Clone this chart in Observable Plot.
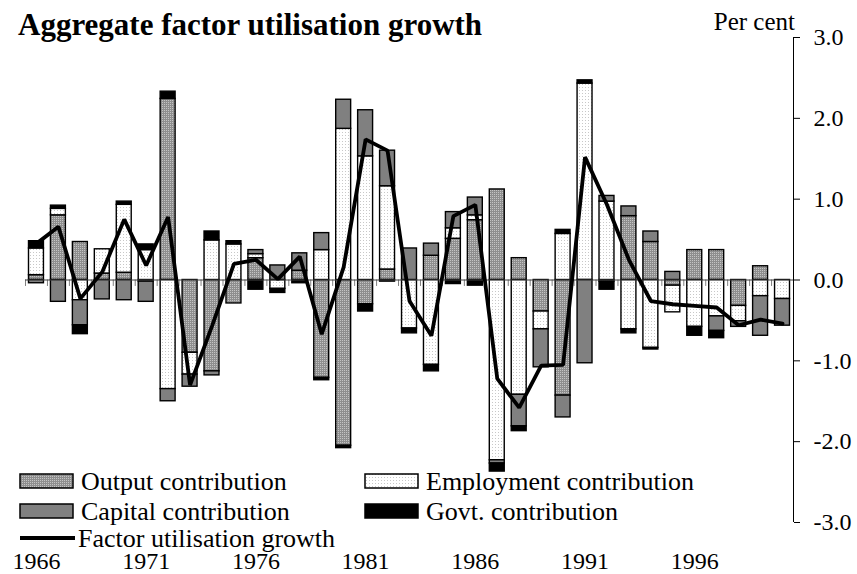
<!DOCTYPE html>
<html><head><meta charset="utf-8">
<script src="https://cdn.jsdelivr.net/npm/d3@7/dist/d3.min.js"></script>
<script src="https://cdn.jsdelivr.net/npm/@observablehq/plot@0.6/dist/plot.umd.min.js"></script>
<style>
html,body{margin:0;padding:0;background:#fff;}
#chart{position:relative;width:857px;height:574px;}
</style></head><body><div id="chart"></div>
<script>
const years = [1966,1967,1968,1969,1970,1971,1972,1973,1974,1975,1976,1977,1978,1979,1980,1981,1982,1983,1984,1985,1986,1987,1988,1989,1990,1991,1992,1993,1994,1995,1996,1997,1998,1999,2000];
const labelYears = [1966,1971,1976,1981,1986,1991,1996];
const yTicks = [-3,-2,-1,0,1,2,3];
const seriesNames = ["Output contribution","Employment contribution","Capital contribution","Govt. contribution"];

const output     = [0.06,0.80,0.47,0.08,0.09,-0.02,2.24,-0.90,-1.13,-0.29,0.27,0,0.115,-1.21,-2.05,-0.30,0.13,0,0.30,0.51,0.74,1.12,0.27,-0.39,-1.43,0,-0.02,0.79,0.47,-0.07,0.37,0.37,-0.32,0.17,0];
const employment = [0.33,0.08,-0.25,0.30,0.84,0.37,-1.35,-0.27,0.49,0.44,0.05,-0.11,0,0.37,1.87,1.53,1.03,-0.60,-1.05,0.13,0.06,-2.23,-1.42,-0.22,0.57,2.43,0.97,-0.61,-0.84,-0.33,-0.58,-0.45,-0.19,-0.20,-0.235];
const capital    = [-0.04,-0.27,-0.31,-0.24,-0.25,-0.25,-0.15,-0.15,-0.05,0,0.05,0.18,0.215,0.21,0.36,0.57,0.44,0.39,0.15,0.20,0.22,-0.04,-0.39,-0.47,-0.27,-1.03,0.07,0.12,0.13,0.10,0,-0.18,-0.07,-0.49,-0.33];
const govt       = [0.09,0.04,-0.11,0,0.04,0.07,0.09,0,0.11,0.04,-0.12,-0.05,-0.04,-0.03,-0.03,-0.09,-0.02,-0.06,-0.08,-0.05,-0.07,-0.10,-0.06,0,0.05,0.04,-0.10,-0.05,-0.02,0,-0.11,-0.09,0,0,0];
const factorGrowth = [0.45,0.66,-0.23,0.10,0.75,0.18,0.78,-1.30,-0.57,0.20,0.25,0.01,0.29,-0.67,0.16,1.74,1.60,-0.26,-0.69,0.79,0.93,-1.22,-1.58,-1.06,-1.05,1.52,0.93,0.25,-0.26,-0.30,-0.32,-0.34,-0.56,-0.49,-0.54];

const seriesValues = [output, employment, capital, govt];
const table = [];
years.forEach((yr, i) => seriesNames.forEach((s, k) => table.push({year: yr, series: s, value: seriesValues[k][i]})));
const boundaries = years.map(y => y - 0.5).concat([years[years.length - 1] + 0.5]);
const xMin = years[0] - 0.5, xMax = years[years.length - 1] + 0.5;

const plot = Plot.plot({
  width: 857, height: 574,
  marginTop: 37, marginBottom: 52, marginLeft: 25, marginRight: 64,
  style: {fontFamily: "'Liberation Serif','Times New Roman',serif", fontSize: "24px", background: "#fff", color: "#000", overflow: "visible"},
  x: {domain: [xMin, xMax], ticks: labelYears, tickFormat: d => String(d), tickSize: 0, tickPadding: 29, label: null},
  y: {domain: [-3, 3], axis: "right", ticks: yTicks, tickFormat: d => d.toFixed(1), tickSize: 6, tickPadding: 14, label: null},
  color: {domain: seriesNames, range: ["url(#pOut)", "url(#pEmp)", "#808080", "#000000"]},
  marks: [
    Plot.ruleX(boundaries, {x: d => d, y1: 0, y2: -0.08, stroke: "#808080", strokeWidth: 1}),
    Plot.rect(table, Plot.stackY({x: "year", x1: d => d.year - 0.5, x2: d => d.year + 0.5, y: "value", z: "series", fill: "series", order: seriesNames, stroke: "#000", strokeWidth: 1.4, insetLeft: 3.5, insetRight: 3.5})),
    Plot.ruleY([0], {stroke: "#404040", strokeWidth: 1}),
    Plot.line(factorGrowth, {x: (d, i) => years[i], y: d => d, stroke: "#000", strokeWidth: 3.8, strokeLinejoin: "miter"}),
    Plot.ruleX([xMax], {y1: yTicks[0], y2: yTicks[yTicks.length - 1], stroke: "#000", strokeWidth: 1})
  ]
});

const svg = d3.select(plot);
svg.selectAll("[aria-label='x-axis'], [aria-label='y-axis'], [aria-label='x-axis tick label'], [aria-label='y-axis tick label']").attr("font-size", 24);
svg.selectAll("[aria-label='x-axis'] text, [aria-label='y-axis'] text").attr("font-size", 24);
const defs = svg.insert("defs", ":first-child");
const p1 = defs.append("pattern").attr("id", "pOut").attr("width", 2).attr("height", 2).attr("patternUnits", "userSpaceOnUse");
p1.append("rect").attr("width", 2).attr("height", 2).attr("fill", "#8e8e8e");
p1.append("rect").attr("width", 1).attr("height", 1).attr("fill", "#c4c4c4");
const p2 = defs.append("pattern").attr("id", "pEmp").attr("width", 3).attr("height", 3).attr("patternUnits", "userSpaceOnUse");
p2.append("rect").attr("width", 3).attr("height", 3).attr("fill", "#ffffff");
p2.append("rect").attr("width", 1).attr("height", 1).attr("fill", "#c8c8c8");

const g = svg.append("g").attr("font-family", "'Liberation Serif','Times New Roman',serif").attr("fill", "#000").attr("text-anchor", "start");
g.append("text").attr("x", 18).attr("y", 35).attr("font-size", 31).attr("font-weight", "bold").attr("text-anchor", "start").text("Aggregate factor utilisation growth");
g.append("text").attr("x", 795).attr("y", 30).attr("font-size", 25).attr("text-anchor", "end").text("Per cent");

const legendItems = [
  {label: seriesNames[0], fill: "url(#pOut)", x: 20, y: 474},
  {label: "Employment contribution", fill: "url(#pEmp)", x: 365, y: 474},
  {label: "Capital contribution", fill: "#808080", x: 20, y: 504},
  {label: "Govt. contribution", fill: "#000", x: 365, y: 504}
];
legendItems.forEach(it => {
  g.append("rect").attr("x", it.x).attr("y", it.y).attr("width", 53).attr("height", 14).attr("fill", it.fill).attr("stroke", "#000").attr("stroke-width", 1.5);
  g.append("text").attr("x", it.x + 61).attr("y", it.y + 16).attr("font-size", 26).attr("text-anchor", "start").text(it.label);
});
g.append("line").attr("x1", 20).attr("x2", 75).attr("y1", 538).attr("y2", 538).attr("stroke", "#000").attr("stroke-width", 3.8);
g.append("text").attr("x", 78).attr("y", 547).attr("font-size", 26).attr("text-anchor", "start").text("Factor utilisation growth");

document.getElementById("chart").appendChild(plot);
</script></body></html>
